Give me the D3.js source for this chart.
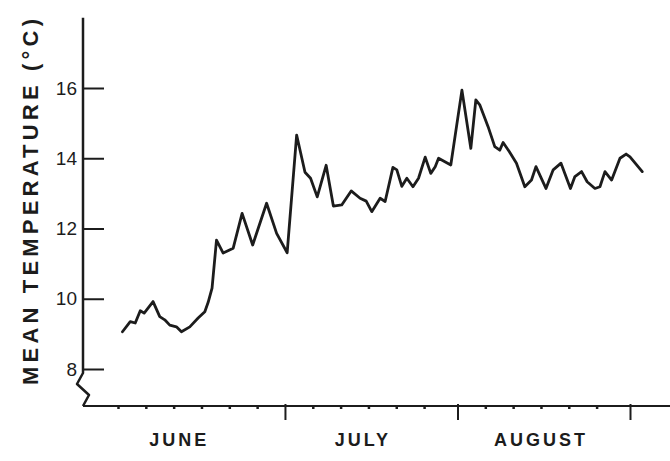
<!DOCTYPE html>
<html>
<head>
<meta charset="utf-8">
<script src="https://cdn.jsdelivr.net/npm/d3@7"></script>
<style>
  body { margin: 0; background: #fff; }
  svg { display: block; }
</style>
</head>
<body>
<div id="chart"></div>
<script>
// days counted from 1 June, mean daily temperature (C)
var days  = [0.8, 2.2, 3.1, 4.0, 4.7, 6.3, 7.5, 8.4, 9.3, 10.5, 11.4, 12.9, 14.4, 15.6, 16.2, 16.9,
             17.7, 18.9, 20.7, 22.3, 24.2, 26.7, 28.5, 30.4, 32.1, 33.6, 34.6, 35.8, 37.4, 38.7,
             40.2, 41.9, 43.5, 44.6, 45.6, 47.1, 48.0, 49.4, 50.1, 51.0, 51.9, 53.0, 54.0, 55.2,
             56.2, 57.0, 57.6, 59.8, 61.8, 63.4, 64.3, 65.0, 66.5, 67.7, 68.6, 69.2, 70.3, 71.6,
             73.1, 74.3, 75.1, 76.9, 78.2, 79.6, 81.3, 82.1, 83.3, 84.3, 85.7, 86.6, 87.5, 88.7,
             90.2, 91.3, 92.0, 94.2];
var temps = [9.06, 9.35, 9.31, 9.66, 9.59, 9.92, 9.49, 9.40, 9.25, 9.20, 9.06, 9.20, 9.45, 9.63, 9.90, 10.30,
             11.67, 11.30, 11.44, 12.43, 11.53, 12.72, 11.86, 11.31, 14.66, 13.60, 13.43, 12.90, 13.80, 12.64,
             12.67, 13.07, 12.86, 12.78, 12.48, 12.86, 12.77, 13.74, 13.67, 13.20, 13.43, 13.19, 13.43, 14.03,
             13.57, 13.76, 14.00, 13.81, 15.94, 14.28, 15.66, 15.52, 14.90, 14.33, 14.23, 14.45, 14.19, 13.86,
             13.19, 13.38, 13.76, 13.14, 13.67, 13.86, 13.14, 13.48, 13.62, 13.33, 13.14, 13.19, 13.62, 13.38,
             14.00, 14.12, 14.04, 13.62];

var yTicks = [8, 10, 12, 14, 16];
var monthStarts = [30, 61, 92];               // 1 July, 1 August, 1 September
var fiveDayTicks = [0, 5, 10, 15, 20, 25, 35, 40, 45, 50, 55, 66, 71, 76, 81, 86];
var months = ["JUNE", "JULY", "AUGUST"];
var monthLabelAt = [11, 44, 76];
var yTitle = "MEAN TEMPERATURE (\u00B0C)";

var W = 670, H = 461;
var svg = d3.select("#chart").append("svg").attr("width", W).attr("height", H);

var x = d3.scaleLinear().domain([0, 92]).range([118, 630]);
var y = d3.scaleLinear().domain([8, 16]).range([369, 88]);
var axisX = 83, baseY = 406;
var ink = "#1c1c1c";

// y axis : ticks inside, labels outside
var gy = svg.append("g").attr("transform", "translate(" + axisX + ",0)")
    .call(d3.axisLeft(y).tickValues(yTicks).tickSizeInner(-21).tickSizeOuter(0).tickPadding(6));
gy.select(".domain").remove();
gy.selectAll(".tick line").attr("stroke", ink).attr("stroke-width", 2);
gy.selectAll(".tick text")
    .attr("fill", ink)
    .style("font-family", "'Liberation Sans', Arial, sans-serif")
    .style("font-size", "19px");

// y axis line with the break at its foot
svg.append("path")
    .attr("d", "M" + axisX + "," + y(18) + " L" + axisX + ",373 L77,384 L89,395 L" + axisX + "," + baseY)
    .attr("fill", "none").attr("stroke", ink).attr("stroke-width", 2.5).attr("stroke-linejoin", "round");

// x axis
svg.append("line")
    .attr("x1", axisX).attr("x2", W).attr("y1", baseY).attr("y2", baseY)
    .attr("stroke", ink).attr("stroke-width", 2.2);

var gxMinor = svg.append("g").attr("transform", "translate(0," + (baseY - 1) + ")")
    .call(d3.axisBottom(x).tickValues(fiveDayTicks).tickSize(4).tickFormat(""));
gxMinor.select(".domain").remove();
gxMinor.selectAll(".tick line").attr("stroke", ink).attr("stroke-width", 2.5);

var gxMajor = svg.append("g").attr("transform", "translate(0," + (baseY - 2) + ")")
    .call(d3.axisBottom(x).tickValues(monthStarts).tickSize(16).tickFormat(""));
gxMajor.select(".domain").remove();
gxMajor.selectAll(".tick line").attr("stroke", ink).attr("stroke-width", 2);

svg.selectAll(".month").data(months).enter().append("text")
    .attr("class", "month")
    .attr("x", function(d, i) { return x(monthLabelAt[i]); })
    .attr("y", 446)
    .attr("text-anchor", "middle")
    .attr("fill", ink)
    .style("font-family", "'Liberation Sans', Arial, sans-serif")
    .style("font-weight", "bold")
    .style("font-size", "18px")
    .style("letter-spacing", "3px")
    .text(function(d) { return d; });

svg.append("text")
    .attr("transform", "translate(38,202) rotate(-90)")
    .attr("text-anchor", "middle")
    .attr("fill", ink)
    .attr("textLength", 366)
    .attr("lengthAdjust", "spacing")
    .style("font-family", "'Liberation Sans', Arial, sans-serif")
    .style("font-weight", "bold")
    .style("font-size", "22px")
    .text(yTitle);

// the temperature trace
var pts = days.map(function(d, i) { return [d, temps[i]]; });
svg.append("path")
    .datum(pts)
    .attr("d", d3.line().x(function(d) { return x(d[0]); }).y(function(d) { return y(d[1]); }))
    .attr("fill", "none")
    .attr("stroke", ink)
    .attr("stroke-width", 2.8)
    .attr("stroke-linejoin", "round")
    .attr("stroke-linecap", "round");
</script>
</body>
</html>
